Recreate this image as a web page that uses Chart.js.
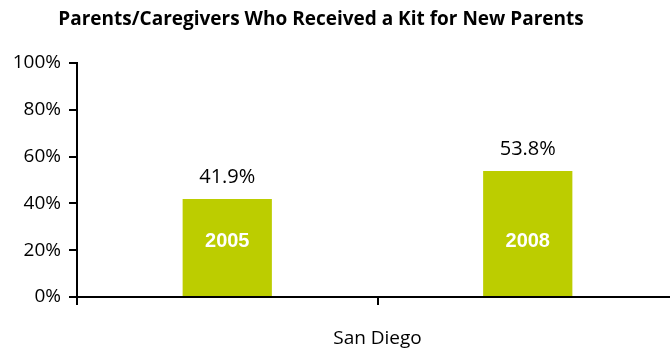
<!DOCTYPE html>
<html>
<head>
<meta charset="utf-8">
<script src="https://cdn.jsdelivr.net/npm/chart.js@4.4.1/dist/chart.umd.min.js"></script>
<style>
    html, body { margin: 0; padding: 0; background: #fff; overflow: hidden; }
    #wrap { width: 670px; height: 354px; overflow: hidden; }
</style>
</head>
<body>
<div id="wrap"><canvas id="kitChart" width="678" height="354"></canvas></div>
<script>
// Kit for new parents, San Diego survey years
const titleText = 'Parents/Caregivers Who Received a Kit for New Parents';
const years = ['2005', '2008'];
const percentReceived = [41.9, 53.8];
const yTicks = [0, 20, 40, 60, 80, 100];
const regionLabel = 'San Diego';

const barColor = '#bccd00';
const axisColor = '#000000';

// title drawn a bit left of centre, over the plot
const titlePlugin = {
    id: 'chartHeading',
    afterDraw(chart) {
        const ctx = chart.ctx;
        ctx.save();
        ctx.font = 'bold 19px "Open Sans", sans-serif';
        ctx.fillStyle = '#000';
        ctx.textAlign = 'center';
        ctx.textBaseline = 'middle';
        ctx.fillText(titleText, 321, 20);
        ctx.restore();
    }
};

// value above each bar, year inside near the base
const barLabelPlugin = {
    id: 'barLabels',
    afterDatasetsDraw(chart) {
        const ctx = chart.ctx;
        const meta = chart.getDatasetMeta(0);
        const yScale = chart.scales.y;
        ctx.save();
        ctx.textAlign = 'center';
        ctx.textBaseline = 'middle';
        meta.data.forEach((bar, i) => {
            ctx.fillStyle = '#000';
            ctx.font = '20px "Open Sans", sans-serif';
            ctx.fillText(percentReceived[i].toFixed(1) + '%', bar.x, bar.y - 22);
            ctx.fillStyle = '#fff';
            ctx.font = 'bold 20px "Liberation Sans", Arial, sans-serif';
            ctx.fillText(years[i], bar.x, yScale.getPixelForValue(0) - 56);
        });
        ctx.restore();
    }
};

new Chart(document.getElementById('kitChart').getContext('2d'), {
    type: 'bar',
    data: {
        labels: years,
        datasets: [{
            data: percentReceived,
            backgroundColor: barColor,
            borderWidth: 0,
            barPercentage: 0.297,
            categoryPercentage: 1.0
        }]
    },
    options: {
        responsive: false,
        animation: false,
        layout: { padding: { top: 63, right: 0, left: 0, bottom: 0 } },
        plugins: {
            legend: { display: false },
            title: { display: false },
            tooltip: { enabled: false }
        },
        scales: {
            y: {
                min: 0,
                max: 100,
                afterBuildTicks: (scale) => { scale.ticks = yTicks.map(v => ({ value: v })); },
                afterFit: (scale) => { scale.width = 77; },
                ticks: {
                    color: '#000',
                    padding: 8,
                    font: { family: '"Open Sans", sans-serif', size: 19 },
                    callback: (value) => value + '%'
                },
                grid: {
                    drawOnChartArea: false,
                    drawTicks: true,
                    tickLength: 8,
                    color: axisColor,
                    lineWidth: 2
                },
                border: { color: axisColor, width: 2 }
            },
            x: {
                afterFit: (scale) => { scale.height = 57; },
                ticks: { display: false },
                grid: {
                    offset: true,
                    drawOnChartArea: false,
                    drawTicks: true,
                    tickLength: 8,
                    color: axisColor,
                    lineWidth: 2
                },
                border: { color: axisColor, width: 2 },
                title: {
                    display: true,
                    text: regionLabel,
                    color: '#000',
                    font: { family: '"Open Sans", sans-serif', size: 19 },
                    padding: { top: 0, bottom: 4 }
                }
            }
        }
    },
    plugins: [titlePlugin, barLabelPlugin]
});
</script>
</body>
</html>
